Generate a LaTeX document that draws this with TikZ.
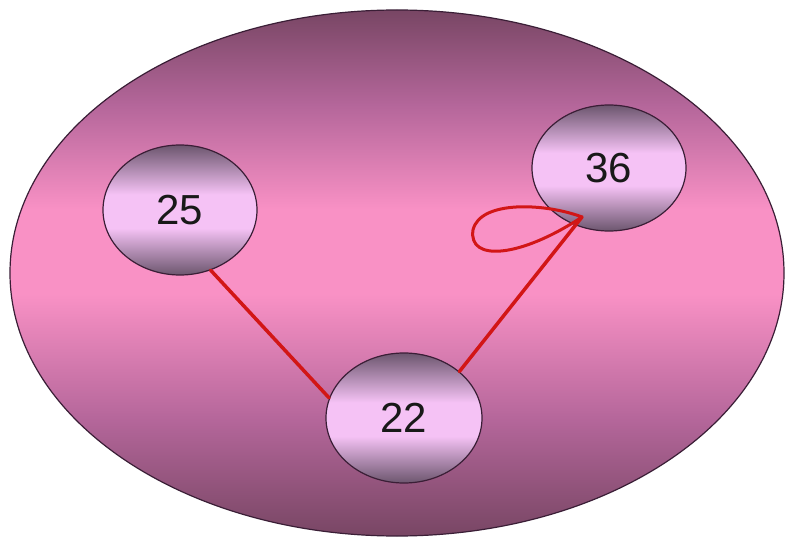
\documentclass[tikz,border=0pt]{standalone}
\usepackage{fontspec}
\setmainfont{Liberation Sans}
\usetikzlibrary{shapes.geometric}
\definecolor{setdark}{HTML}{784664}
\definecolor{setmid}{HTML}{B4669A}
\definecolor{setlight}{HTML}{F991C5}
\definecolor{elemdark}{HTML}{6C566E}
\definecolor{elemlight}{HTML}{F5C2F5}
\definecolor{rim}{HTML}{3A1E36}
\definecolor{edgered}{HTML}{D21616}
% vertical shadings: the shaded shape spans 25bp..75bp
\pgfdeclareverticalshading{setshade}{100bp}{%
  color(0bp)=(setdark); color(25bp)=(setdark); color(36bp)=(setmid);
  color(48bp)=(setlight); color(56bp)=(setlight); color(66bp)=(setmid);
  color(75bp)=(setdark); color(100bp)=(setdark)}
\pgfdeclareverticalshading{elemshade}{100bp}{%
  color(0bp)=(elemdark); color(25bp)=(elemdark); color(43bp)=(elemlight);
  color(56bp)=(elemlight); color(75bp)=(elemdark); color(100bp)=(elemdark)}
\tikzset{
  setbody/.style={ellipse, draw=rim, line width=1.2pt, inner sep=0pt,
    minimum width=774pt, minimum height=526pt, shade, shading=setshade},
  element/.style={ellipse, draw=rim, line width=1.2pt, inner sep=0pt,
    minimum width=154pt, minimum height=130pt, shade, shading=elemshade,
    font=\fontsize{42}{42}\selectfont, text=black!90},
  relation/.style={draw=edgered, line width=3.5pt, line cap=round}
}
\begin{document}
\begin{tikzpicture}[x=1pt, y=-1pt]
  \useasboundingbox (0,0) rectangle (790,540);
  \fill[white] (0,0) rectangle (790,540);
  \node[setbody] (set) at (397,273) {};
  \node[element] (n25) at (180,210) {25};
  \node[element, minimum height=126pt] (n36) at (609,168) {36};
  \node[element, minimum width=156pt] (n22) at (404,418) {22};
  \coordinate (tip) at (582,217);
  \draw[relation] (n25.-63) -- (n22.165);
  \draw[relation] (n22.40) -- (tip);
  \draw[relation, line width=3pt, line join=round]
    (tip) .. controls (545,203) and (480,200) .. (473,230)
          .. controls (468,262) and (520,258) .. (tip);
\end{tikzpicture}
\end{document}
